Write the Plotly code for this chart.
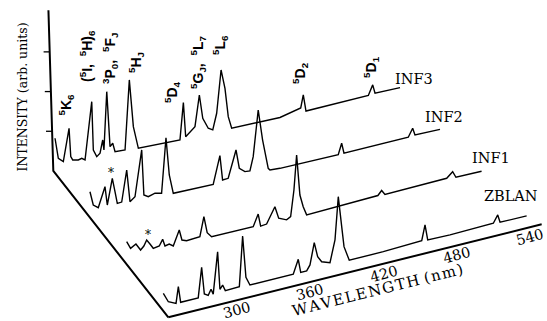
import plotly.graph_objects as go

# ---------------- data ----------------
SERIES = ["ZBLAN", "INF1", "INF2", "INF3"]

ZBLAN_WL = [250.6, 254.7, 261.0, 262.9, 264.8, 269.7, 279.2, 282.0, 284.2, 287.4, 289.7, 291.5,
            295.1, 297.0, 299.2, 301.4, 307.9, 312.9, 315.6, 318.3, 321.6, 338.0, 357.1, 361.2,
            363.2, 368.1, 370.8, 374.3, 377.1, 380.4, 387.2, 391.3, 394.0, 396.8, 398.7, 403.0,
            430.9, 462.4, 465.1, 467.3, 485.6, 521.1, 524.7, 526.6, 548.4]
ZBLAN_I = [13.3, 3.6, 0.1, 16.2, 0.0, 0.0, 0.0, 29.7, 2.4, 0.0, 5.4, 0.0,
           41.3, 3.2, 6.8, 0.5, 0.9, 1.0, 50.8, 8.7, 0.0, 0.0, 0.0, 13.7,
           0.0, 0.0, 5.1, 26.3, 11.4, 5.4, 2.4, 23.8, 66.3, 35.5, 14.9, 0.0,
           0.1, 1.5, 16.4, 0.8, 0.2, 1.1, 8.3, 0.4, 0.1]

INF1_WL = [255.8, 259.0, 263.4, 267.2, 269.9, 272.2, 274.9, 277.6, 282.5, 285.3, 287.2, 290.7,
           294.0, 298.9, 301.1, 304.9, 315.8, 319.1, 321.8, 325.4, 359.5, 363.6, 365.6, 370.5,
           377.3, 380.4, 386.9, 390.2, 392.9, 395.1, 397.8, 400.5, 403.3, 461.7, 464.8, 467.5,
           518.1, 523.0, 525.7, 546.7]
INF1_I = [18.0, 10.4, 13.4, 6.2, 9.4, 14.7, 9.9, 4.8, 5.6, 11.4, 4.2, 5.1,
          2.1, 16.6, 5.9, 4.1, 4.8, 23.8, 6.9, 1.8, 1.5, 12.9, 0.3, 0.8,
          16.1, 3.6, 0.0, 2.2, 28.0, 62.4, 21.5, 9.0, 0.0, 1.6, 5.7, 0.9,
          1.7, 6.8, 0.4, 0.0]

INF2_WL = [258.5, 261.2, 265.3, 270.8, 272.7, 276.8, 279.0, 280.9, 284.5, 288.6, 291.3, 295.4,
           300.9, 302.7, 306.3, 311.8, 317.2, 320.8, 323.5, 326.8, 359.5, 365.0, 367.2, 371.8,
           378.2, 380.9, 385.5, 389.6, 392.3, 396.4, 400.0, 404.6, 406.0, 414.2, 462.0, 464.8,
           466.7, 519.4, 523.0, 524.9, 545.4]
INF2_I = [24.8, 10.7, 6.8, 26.1, 7.2, 32.7, 18.6, 6.4, 6.6, 37.4, 4.9, 8.6,
          53.7, 8.1, 5.3, 7.1, 5.4, 59.9, 21.8, 2.5, 1.5, 28.5, 3.5, 3.8,
          30.2, 11.1, 6.3, 5.7, 19.2, 64.6, 33.5, 3.8, 1.7, 0.9, 0.0, 10.6,
          0.0, 0.0, 7.9, 0.6, 0.0]

INF3_WL = [261.0, 263.7, 267.8, 272.5, 273.9, 275.5, 280.1, 282.9, 285.6, 291.1, 292.4, 295.2,
           297.9, 300.1, 301.1, 303.4, 306.1, 308.3, 310.2, 318.4, 321.9, 325.2, 329.3, 363.4,
           366.2, 368.1, 375.7, 379.3, 382.1, 386.6, 390.3, 393.5, 397.1, 400.3, 403.0, 405.8,
           445.4, 462.4, 464.5, 466.7, 517.8, 521.4, 523.3, 543.8]
INF3_I = [35.3, 14.4, 9.8, 41.8, 13.0, 9.2, 7.8, 8.6, 6.1, 62.7, 14.0, 6.5,
          9.1, 21.7, 11.4, 69.0, 13.2, 15.9, 6.9, 6.1, 75.1, 27.4, 4.5, 2.4,
          38.9, 4.3, 12.0, 42.6, 18.5, 7.1, 4.3, 20.0, 62.2, 42.9, 13.7, 1.3,
          0.0, 4.4, 16.7, 0.0, 0.0, 9.5, 0.6, 0.0]

WL_TICKS = [300, 360, 420, 480, 540]
INT_TICKS = [40, 80, 120]

LEVEL_TEXT = ["<sup>5</sup>K<sub>6</sub>",
              "(<sup>5</sup>I,\u00a0\u00a0<sup>5</sup>H)<sub>6</sub>",
              "<sup>3</sup>P<sub>0</sub>,\u00a0\u00a0<sup>5</sup>F<sub>J</sub>",
              "<sup>5</sup>H<sub>J</sub>",
              "<sup>5</sup>D<sub>4</sub>",
              "<sup>5</sup>G<sub>J</sub>,\u00a0\u00a0<sup>5</sup>L<sub>7</sub>",
              "<sup>5</sup>L<sub>6</sub>",
              "<sup>5</sup>D<sub>2</sub>",
              "<sup>5</sup>D<sub>1</sub>"]
LEVEL_WL = [270.4, 287.2, 306.1, 327.4, 356.9, 378.2, 396.2, 461.8, 520.0]
LEVEL_H = [66.7, 109.6, 100.9, 90.4, 52.4, 75.0, 87.5, 39.6, 27.9]

NAME_WL = [511.8, 537.2, 531.4, 538.0]
NAME_H = [31.2, 16.2, 16.6, 10.4]

STAR_SERIES = [2, 1]
STAR_WL = [275.4, 273.5]
STAR_H = [38.5, 19.5]

# ---------------- oblique waterfall geometry ----------------
TILT = 0.304                               # floor rise per nm
SHIFT = [0.0, -35.25, -68.03, -99.18]      # depth shift of each spectrum (horizontal)
LIFT = [0.0, 45.28, 87.62, 129.85]         # depth shift of each spectrum (vertical)
AXIS_SHIFT, AXIS_LIFT = 9.5, -9.11         # wavelength axis sits in front of ZBLAN
AXIS_WL = [245.2, 551.2]
WALL_WL = [259.6, 255.6]                   # back wall (bottom, top)
WALL_I = [3.0, 165.0]


def proj(wl, inten, shift, lift):
    xs = [w + shift for w in wl]
    ys = [i + TILT * w + lift for w, i in zip(wl, inten)]
    return xs, ys


DATA = [(ZBLAN_WL, ZBLAN_I), (INF1_WL, INF1_I), (INF2_WL, INF2_I), (INF3_WL, INF3_I)]

fig = go.Figure()
for k, (wl, it) in enumerate(DATA):
    xs, ys = proj(wl, it, SHIFT[k], LIFT[k])
    fig.add_trace(go.Scatter(x=xs, y=ys, mode="lines", name=SERIES[k],
                             line=dict(color="black", width=1.4), hoverinfo="skip"))

# wavelength axis
ax_x, ax_y = proj(AXIS_WL, [0, 0], AXIS_SHIFT, AXIS_LIFT)
fig.add_trace(go.Scatter(x=ax_x, y=ax_y, mode="lines", line=dict(color="black", width=2.0),
                         hoverinfo="skip"))
# depth axis + intensity wall
fc_x, fc_y = proj([AXIS_WL[0]], [0], AXIS_SHIFT, AXIS_LIFT)
wl_x, wl_y = proj(WALL_WL, WALL_I, SHIFT[3], LIFT[3])
fig.add_trace(go.Scatter(x=fc_x + wl_x, y=fc_y + wl_y, mode="lines",
                         line=dict(color="black", width=2.0), hoverinfo="skip"))
# intensity ticks
tx, ty = [], []
for t in INT_TICKS:
    f = t / (WALL_I[1] - WALL_I[0])
    w = WALL_WL[0] + f * (WALL_WL[1] - WALL_WL[0])
    px, py = proj([w], [WALL_I[0] + t], SHIFT[3], LIFT[3])
    tx += [px[0], px[0] - 5.0, None]
    ty += [py[0], py[0], None]
fig.add_trace(go.Scatter(x=tx, y=ty, mode="lines", line=dict(color="black", width=1.3),
                         hoverinfo="skip"))

ann = []
serif = "DejaVu Serif"
for t in WL_TICKS:
    x, y = proj([t], [0], AXIS_SHIFT, AXIS_LIFT)
    ann.append(dict(x=x[0], y=y[0], text=str(t), showarrow=False, textangle=-15,
                    xanchor="center", yanchor="middle", xshift=2, yshift=-9.5,
                    font=dict(family=serif, size=14.5, color="black")))
x, y = proj([417.0], [0], AXIS_SHIFT, AXIS_LIFT)
ann.append(dict(x=x[0], y=y[0], text="W\u200aA\u200aV\u200aE\u200aL\u200aE\u200aN\u200aG\u200aT\u200aH (\u200an\u200am\u200a)",
                showarrow=False, textangle=-14, xanchor="center", yanchor="middle", yshift=-25,
                font=dict(family=serif, size=15, color="black")))
ann.append(dict(x=22 / 547, y=1 - 97.5 / 321, xref="paper", yref="paper",
                text="INTENSITY (arb. units)", showarrow=False, textangle=-90,
                xanchor="center", yanchor="middle",
                font=dict(family=serif, size=12.5, color="black")))
for k in range(4):
    x, y = proj([NAME_WL[k]], [NAME_H[k]], SHIFT[k], LIFT[k])
    ann.append(dict(x=x[0], y=y[0], text=SERIES[k], showarrow=False, xanchor="left",
                    yanchor="middle", font=dict(family=serif, size=14.5, color="black")))
for txt, w, h in zip(LEVEL_TEXT, LEVEL_WL, LEVEL_H):
    x, y = proj([w], [h], SHIFT[3], LIFT[3])
    ann.append(dict(x=x[0], y=y[0], text=txt, showarrow=False, textangle=-90,
                    xanchor="center", yanchor="middle",
                    font=dict(family="Liberation Sans", size=14, color="black", weight="bold")))
for s, w, h in zip(STAR_SERIES, STAR_WL, STAR_H):
    x, y = proj([w], [h], SHIFT[s], LIFT[s])
    ann.append(dict(x=x[0], y=y[0], text="*", showarrow=False, xanchor="center",
                    yanchor="middle", font=dict(family=serif, size=12, color="black")))

fig.update_layout(width=547, height=321, margin=dict(l=0, r=0, t=0, b=0),
                  paper_bgcolor="white", plot_bgcolor="white", showlegend=False,
                  xaxis=dict(range=[116.72, 565.08], visible=False, fixedrange=True),
                  yaxis=dict(range=[61.77, 382.73], visible=False, fixedrange=True),
                  annotations=ann)
fig.write_html("out.html", config={"displayModeBar": False},
               post_script="document.body.style.margin='0';document.body.style.overflow='hidden';")
